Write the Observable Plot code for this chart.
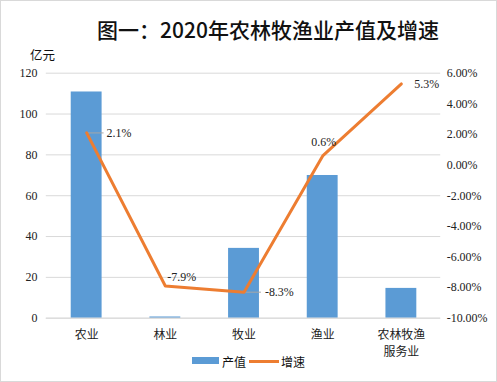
<!DOCTYPE html>
<html><head><meta charset="utf-8">
<script src="https://cdn.jsdelivr.net/npm/d3@7"></script>
<script src="https://cdn.jsdelivr.net/npm/@observablehq/plot@0.6"></script>
<style>
html,body{margin:0;padding:0;background:#fff;}
#wrap{position:relative;width:497px;height:382px;box-sizing:border-box;border:1px solid #d9d9d9;overflow:hidden;}
#wrap svg{position:absolute;left:-1px;top:-1px;}
.t{position:absolute;white-space:nowrap;color:#111;}
</style></head>
<body>
<div id="wrap">
  <div class="t" id="title" style="left:96px;top:16px;font:500 21px 'Noto Sans CJK SC';line-height:24px;">图一：2020年农林牧渔业产值及增速</div>
  <div class="t" style="left:29px;top:45px;font:12.5px 'Noto Sans CJK SC';line-height:18px;">亿元</div>
  <div class="t" style="left:191px;top:356px;width:27px;height:7px;background:#5B9BD5;"></div>
  <div class="t" style="left:221px;top:352px;font:12px 'Noto Sans CJK SC';line-height:18px;">产值</div>
  <div class="t" style="left:248px;top:359px;width:30px;height:3px;background:#ED7D31;"></div>
  <div class="t" style="left:280px;top:352px;font:12px 'Noto Sans CJK SC';line-height:18px;">增速</div>
</div>
<script>
const categories = ["农业","林业","牧业","渔业","农林牧渔服务业"];
const categoryLabels = ["农业","林业","牧业","渔业","农林牧渔\n服务业"];
const outputValues = [110.8, 0.6, 34.2, 69.9, 14.6];
const growthValues = [2.1, -7.9, -8.3, 0.6, 5.3];
const growthLabels = ["2.1%","-7.9%","-8.3%","0.6%","5.3%"];
const leftTicks = [0,20,40,60,80,100,120];
const rightTicks = [-10,-8,-6,-4,-2,0,2,4,6];

const gMin = -10, gMax = 6, yMax = 120;
const toY = g => (g - gMin) / (gMax - gMin) * yMax;
const fromY = y => y / yMax * (gMax - gMin) + gMin;

const rows = categories.map((c,i)=>({cat:c, label:categoryLabels[i], value:outputValues[i], growth:growthValues[i], gl:growthLabels[i], i}));
const labelFor = new Map(rows.map(r=>[r.cat,r.label]));

const serif = "Liberation Serif, Times New Roman, serif";
const cjk = "Noto Sans CJK SC";
const lbl = (idx, opts) => Plot.text(rows.filter(r=>idx.includes(r.i)), {x:"cat", y:d=>toY(d.growth), text:"gl", fontFamily:serif, fontSize:12, fill:"#222", ...opts});

const chart = Plot.plot({
  width: 497, height: 382,
  marginTop: 73, marginBottom: 63, marginLeft: 46, marginRight: 55,
  style: {fontFamily: serif, fontSize: "12px", color: "#222", background: "transparent"},
  x: {domain: categories, paddingInner: 0.61, paddingOuter: 0.305, label: null},
  y: {domain: [0, yMax], label: null},
  marks: [
    Plot.gridY(leftTicks, {stroke: "#d9d9d9", strokeOpacity: 1}),
    Plot.axisY(leftTicks, {anchor: "left", tickSize: 0, tickPadding: 9, fontFamily: serif, fontSize: 12, label: null}),
    Plot.axisY(rightTicks.map(toY), {anchor: "right", tickSize: 0, tickPadding: 6, fontFamily: serif, fontSize: 12, label: null, tickFormat: d => fromY(d).toFixed(2) + "%"}),
    Plot.axisX({anchor: "bottom", tickSize: 0, tickPadding: 9, fontFamily: cjk, fontSize: 12, lineHeight: 1.4, label: null, tickFormat: d => labelFor.get(d)}),
    Plot.barY(rows, {x: "cat", y: "value", fill: "#5B9BD5"}),
    Plot.ruleY([0], {stroke: "#d9d9d9"}),
    Plot.tickY(rows.filter(r => r.i === 0 || r.i === 2), {x: "cat", y: d => toY(d.growth), stroke: "#a6a6a6", strokeWidth: 1, insetLeft: 15.5, insetRight: -2}),
    Plot.line(rows, {x: "cat", y: d => toY(d.growth), stroke: "#ED7D31", strokeWidth: 3}),
    lbl([0], {textAnchor: "start", dx: 20}),
    lbl([1], {textAnchor: "start", dx: 2, dy: -9}),
    lbl([2], {textAnchor: "start", dx: 21}),
    lbl([3], {textAnchor: "middle", dx: 1, dy: -14}),
    lbl([4], {textAnchor: "start", dx: 13})
  ]
});
document.getElementById("wrap").appendChild(chart);
</script>
</body></html>
